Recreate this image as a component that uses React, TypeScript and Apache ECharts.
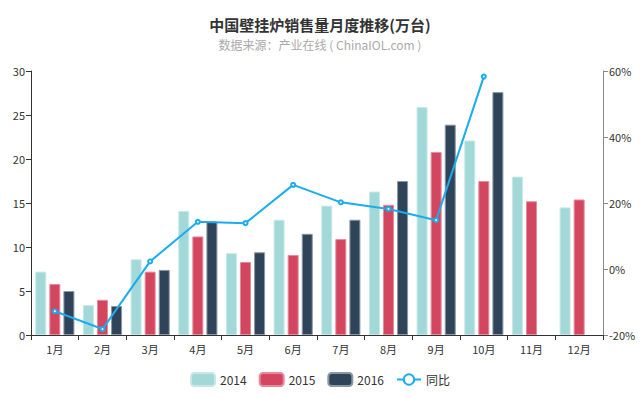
import React, { useEffect, useRef } from "react";
import * as echarts from "echarts";

const months = ["1月", "2月", "3月", "4月", "5月", "6月", "7月", "8月", "9月", "10月", "11月", "12月"];
const sales2014 = [7.2, 3.4, 8.6, 14.1, 9.3, 13.1, 14.7, 16.3, 25.9, 22.1, 18.0, 14.5];
const sales2015 = [5.8, 4.0, 7.2, 11.2, 8.3, 9.1, 10.9, 14.8, 20.8, 17.5, 15.2, 15.4];
const sales2016: (number | string)[] = [5.0, 3.3, 7.4, 12.9, 9.4, 11.5, 13.1, 17.5, 23.9, 27.6, "-", "-"];
const yoy: (number | string)[] = [-12.8, -18.2, 2.3, 14.3, 13.9, 25.5, 20.2, 18.2, 14.8, 58.3, "-", "-"];

const FONT = "'Noto Sans CJK SC', 'Noto Sans', sans-serif";

export default function App() {
  const ref = useRef<HTMLDivElement>(null);
  useEffect(() => {
    if (!ref.current) return;
    const chart = echarts.init(ref.current, null, { renderer: "svg" });
    chart.setOption({
      animation: false,
      textStyle: { fontFamily: FONT },
      title: {
        text: "中国壁挂炉销售量月度推移(万台)",
        subtext: "数据来源：产业在线 ( ChinaIOL.com )",
        left: "center",
        top: 12,
        itemGap: 6,
        textStyle: { fontSize: 15, fontWeight: "bold", color: "#333", fontFamily: FONT },
        subtextStyle: { fontSize: 12, color: "#aaa", fontFamily: FONT },
      },
      legend: {
        bottom: 6,
        left: "center",
        itemWidth: 24,
        itemHeight: 13,
        itemGap: 12,
        textStyle: { fontSize: 12, color: "#333", fontFamily: FONT },
        data: [
          { name: "2014", icon: "roundRect" },
          { name: "2015", icon: "roundRect" },
          { name: "2016", icon: "roundRect" },
          { name: "同比" },
        ],
      },
      grid: { left: 31, right: 37, top: 71, bottom: 63 },
      xAxis: {
        type: "category",
        data: months,
        boundaryGap: true,
        axisLine: { lineStyle: { color: "#333" } },
        axisTick: { show: true, alignWithLabel: false, lineStyle: { color: "#333" } },
        axisLabel: { color: "#333", fontSize: 11, margin: 8 },
      },
      yAxis: [
        {
          type: "value",
          min: 0,
          max: 30,
          interval: 5,
          axisLine: { show: true, lineStyle: { color: "#333" } },
          axisTick: { show: true, lineStyle: { color: "#333" } },
          axisLabel: { color: "#333", fontSize: 11, margin: 6 },
          splitLine: { show: false },
        },
        {
          type: "value",
          min: -20,
          max: 60,
          interval: 20,
          axisLine: { show: true, lineStyle: { color: "#888" } },
          axisTick: { show: true, lineStyle: { color: "#888" } },
          axisLabel: { color: "#333", fontSize: 11, margin: 6, formatter: "{value}%" },
          splitLine: { show: false },
        },
      ],
      series: [
        {
          name: "2014",
          type: "bar",
          data: sales2014,
          barWidth: 11,
          barGap: "28%",
          itemStyle: { color: "#a2d8d8", borderColor: "#c8e8e8", borderWidth: 1 },
        },
        {
          name: "2015",
          type: "bar",
          data: sales2015,
          barWidth: 11,
          barGap: "28%",
          itemStyle: { color: "#d24660", borderColor: "#e88a9a", borderWidth: 1 },
        },
        {
          name: "2016",
          type: "bar",
          data: sales2016,
          barWidth: 11,
          barGap: "28%",
          itemStyle: { color: "#2f4458", borderColor: "#8a98a6", borderWidth: 1 },
        },
        {
          name: "同比",
          type: "line",
          yAxisIndex: 1,
          data: yoy,
          symbol: "emptyCircle",
          symbolSize: 4,
          lineStyle: { color: "#1aacef", width: 2 },
          itemStyle: { color: "#1aacef", borderWidth: 1 },
        },
      ],
    });
    return () => chart.dispose();
  }, []);
  return <div ref={ref} style={{ width: 640, height: 398, position: "absolute", left: 0, top: 0 }} />;
}
